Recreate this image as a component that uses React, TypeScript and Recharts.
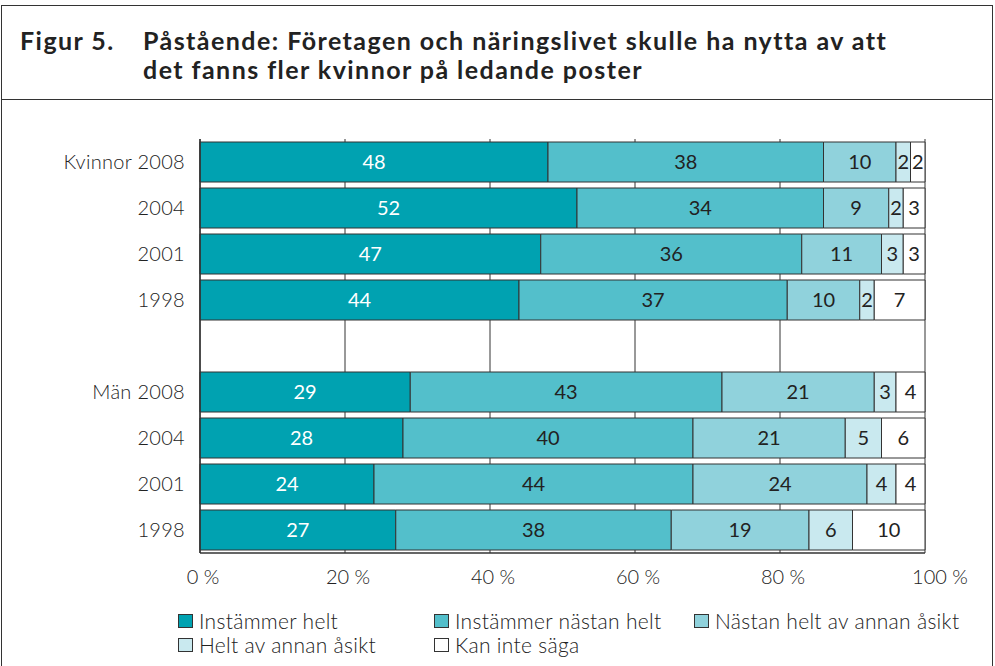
import { BarChart, Bar, XAxis, YAxis, CartesianGrid, LabelList } from "recharts";

const rowKeys = ["k2008", "k2004", "k2001", "k1998", "gap", "m2008", "m2004", "m2001", "m1998"];
const rowLabels = ["Kvinnor 2008", "2004", "2001", "1998", "", "Män 2008", "2004", "2001", "1998"];

const instammerHelt = [48, 52, 47, 44, null, 29, 28, 24, 27];
const instammerNastanHelt = [38, 34, 36, 37, null, 43, 40, 44, 38];
const nastanHeltAnnan = [10, 9, 11, 10, null, 21, 21, 24, 19];
const heltAnnan = [2, 2, 3, 2, null, 3, 5, 4, 6];
const kanInteSaga = [2, 3, 3, 7, null, 4, 6, 4, 10];

const seriesNames = [
  "Instämmer helt",
  "Instämmer nästan helt",
  "Nästan helt av annan åsikt",
  "Helt av annan åsikt",
  "Kan inte säga",
];
const seriesValues = [instammerHelt, instammerNastanHelt, nastanHeltAnnan, heltAnnan, kanInteSaga];
const xTicks = [0, 20, 40, 60, 80, 100];

const colors = ["#00a2b1", "#53bfcb", "#90d2dc", "#c9e9ef", "#ffffff"];
const labelColors = ["#ffffff", "#222222", "#222222", "#222222", "#222222"];
const font = "Lato, 'Open Sans', sans-serif";
const ink = "#333";

const rows = rowKeys.map((key, i) => {
  const row: Record<string, string | number | null> = { key };
  seriesValues.forEach((vals, s) => {
    row["s" + s] = vals[i];
  });
  return row;
});

// percent labels sit slightly right of their gridline, the last one more so
function PercentTick(props: any) {
  const { x, y, payload } = props;
  const shift = payload.value === 100 ? 15 : 3;
  return (
    <text x={x + shift} y={y} dy="0.71em" textAnchor="middle" fontSize={20} fontWeight={300} fill="#222" fontFamily={font}>
      {`${payload.value} %`}
    </text>
  );
}

function LegendBox() {
  const cols = [178, 434, 694];
  return (
    <div
      style={{
        position: "absolute",
        left: 0,
        top: 608,
        width: 995,
        fontFamily: font,
        fontWeight: 300,
        fontSize: 21,
        letterSpacing: 0.3,
        color: "#222",
      }}
    >
      {seriesNames.map((name, i) => (
        <div
          key={name}
          style={{
            position: "absolute",
            left: cols[i % 3],
            top: Math.floor(i / 3) * 24,
            display: "flex",
            alignItems: "center",
            whiteSpace: "nowrap",
          }}
        >
          <span
            style={{
              display: "inline-block",
              width: 13,
              height: 12,
              background: colors[i],
              border: `1px solid ${ink}`,
              marginRight: 6,
            }}
          />
          {name}
        </div>
      ))}
    </div>
  );
}

export default function App() {
  const titleStyle = {
    position: "absolute" as const,
    top: 26,
    fontFamily: font,
    fontWeight: 700,
    fontSize: 25,
    letterSpacing: 1.45,
    color: "#222",
    lineHeight: "29px",
    whiteSpace: "nowrap" as const,
  };
  return (
    <div style={{ position: "absolute", left: 0, top: 0, width: 995, height: 666, background: "#fff", overflow: "hidden" }}>
      {/* frame */}
      <div
        style={{
          position: "absolute",
          left: 1,
          top: 5,
          width: 990,
          height: 700,
          border: `1.5px solid ${ink}`,
        }}
      />
      <div style={{ position: "absolute", left: 1, top: 99, width: 992, height: 0, borderTop: `1.5px solid ${ink}` }} />
      <div style={{ ...titleStyle, left: 20 }}>Figur 5.</div>
      <div style={{ ...titleStyle, left: 143 }}>
        Påstående: Företagen och näringslivet skulle ha nytta av att
        <br />
        det fanns fler kvinnor på ledande poster
      </div>

      <div style={{ position: "absolute", left: 0, top: 0 }}>
        <BarChart
          width={995}
          height={666}
          data={rows}
          layout="vertical"
          margin={{ top: 139, right: 70, bottom: 83, left: 10 }}
          barSize={40}
        >
          <CartesianGrid vertical horizontal={false} stroke={ink} strokeWidth={1} />
          <XAxis
            type="number"
            domain={[0, 100]}
            ticks={xTicks}
            tick={<PercentTick />}
            tickLine={false}
            tickSize={0}
            tickMargin={17}
            axisLine={{ stroke: ink, strokeWidth: 1.5 }}
            height={30}
          />
          <XAxis
            xAxisId="top"
            orientation="top"
            type="number"
            domain={[0, 100]}
            tick={false}
            tickLine={false}
            axisLine={{ stroke: ink, strokeWidth: 1.5 }}
            height={0}
          />
          <YAxis
            type="category"
            dataKey="key"
            width={190}
            tickFormatter={(k) => rowLabels[rowKeys.indexOf(k)]}
            tick={{ fontSize: 20, fontWeight: 300, fill: "#222", fontFamily: font, letterSpacing: 0.3 }}
            tickLine={false}
            tickSize={0}
            tickMargin={15}
            axisLine={{ stroke: ink, strokeWidth: 1.5 }}
          />
          {seriesNames.map((name, s) => (
            <Bar
              key={name}
              dataKey={"s" + s}
              name={name}
              stackId="a"
              fill={colors[s]}
              stroke={ink}
              strokeWidth={1}
              isAnimationActive={false}
            >
              <LabelList
                dataKey={"s" + s}
                position="center"
                fill={labelColors[s]}
                style={{ fontSize: 20, fontFamily: font }}
              />
            </Bar>
          ))}
        </BarChart>
      </div>
      <LegendBox />
    </div>
  );
}
